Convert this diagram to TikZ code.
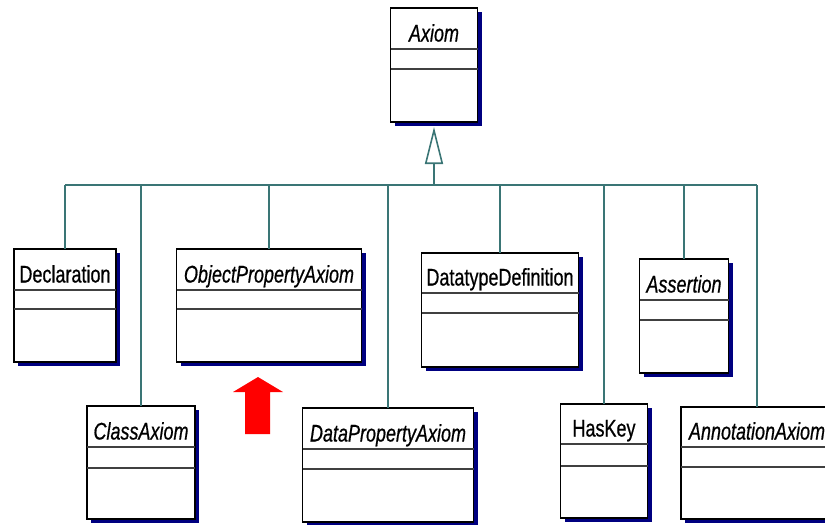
\documentclass[tikz,border=0pt]{standalone}
\usepackage{fontspec}
\setmainfont{Liberation Sans}[FakeStretch=0.75,FakeBold=0.6]
\usetikzlibrary{arrows.meta}
\definecolor{connc}{HTML}{3A7575}
\definecolor{shad}{HTML}{000080}
\definecolor{divc}{HTML}{404040}
\definecolor{redc}{HTML}{FF0000}
\tikzset{
  conn/.style={draw=connc, line width=1.6pt},
  umlbox/.style={draw=black, line width=1.6pt, fill=white, inner sep=0pt, outer sep=0pt, anchor=north},
  divider/.style={draw=divc, line width=1.6pt},
  umltitle/.style={font=\fontsize{24}{26}\selectfont, inner sep=0pt, anchor=base},
}
% name, cx, top, width, height, row1, row2, text
\newcommand{\umlclass}[8]{%
  \fill[shad] (#2-#4/2+4,#3+4) rectangle (#2+#4/2+4,#3+#5+4);
  \node[umlbox, minimum width=#4pt, minimum height=#5pt] (#1) at (#2,#3) {};
  \draw[divider] (#2-#4/2,#3+#6) -- (#2+#4/2,#3+#6);
  \draw[divider] (#2-#4/2,#3+#6+#7) -- (#2+#4/2,#3+#6+#7);
  \node[umltitle] (#1t) at (#2,#3+#6-7.5) {#8};
}
\begin{document}
\begin{tikzpicture}[x=1pt,y=-1pt]
\useasboundingbox (0,0) rectangle (825,525);
\clip (0,0) rectangle (825,525);
\fill[white] (0,0) rectangle (825,525);

\umlclass{axiom}{434}{8}{87}{114}{41}{20}{\itshape Axiom}
\umlclass{decl}{65}{249}{102}{113}{41}{19}{Declaration}
\umlclass{opa}{269}{249}{185}{113}{41}{19}{\itshape ObjectPropertyAxiom}
\umlclass{dtd}{500}{253}{157}{114}{40}{20}{DatatypeDefinition}
\umlclass{asrt}{684}{259}{89}{114}{41}{20}{\itshape Assertion}
\umlclass{cax}{141}{406}{108}{113}{41}{21}{\itshape ClassAxiom}
\umlclass{dpa}{388}{408}{171}{114}{41}{20}{\itshape DataPropertyAxiom}
\umlclass{hk}{604}{404}{87}{114}{40}{22}{HasKey}
\umlclass{ann}{757}{407}{152}{112}{40}{20}{\itshape AnnotationAxiom}

\coordinate (busL) at (65,185);
\coordinate (busR) at (757,185);
\coordinate (hub) at (434,185);
\draw[conn] (busL) -- (busR);
\foreach \n in {decl,opa,dtd,asrt,cax,dpa,hk,ann}
  \draw[conn] (\n.north) -- (\n.north |- busL);
\draw[conn, -{Triangle[open, length=37pt, width=18pt, line width=1.6pt]}]
  (hub) -- ([yshift=-5pt]axiom.south);

\fill[redc] (245,434) -- (245,392) -- (233,392) -- (258,377) -- (283,392)
  -- (270,392) -- (270,434) -- cycle;
\end{tikzpicture}
\end{document}
